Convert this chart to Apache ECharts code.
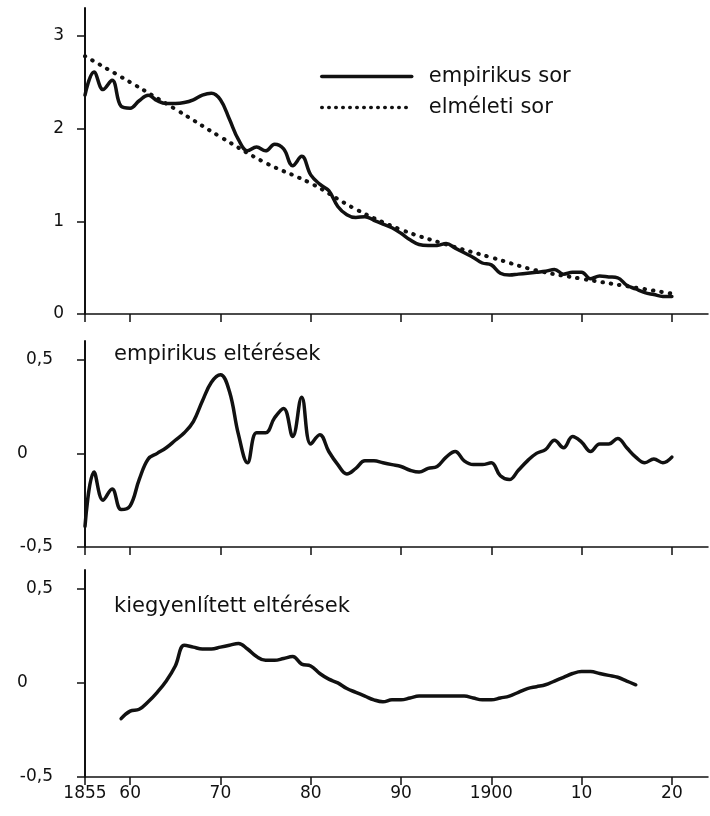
<!DOCTYPE html>
<html>
<head>
<meta charset="utf-8">
<title>empirikus és elméleti sor</title>
<script src="https://cdn.jsdelivr.net/npm/echarts@6/dist/echarts.min.js"></script>
<style>
html,body{margin:0;padding:0;background:#fff;}
#main{width:710px;height:816px;}
</style>
</head>
<body>
<div id="main"></div>
<script>
// évek (egységes x tengely mindhárom ábrán)
var years = [1855,1856,1857,1858,1859,1860,1861,1862,1863,1864,
             1865,1866,1867,1868,1869,1870,1871,1872,1873,1874,
             1875,1876,1877,1878,1879,1880,1881,1882,1883,1884,
             1885,1886,1887,1888,1889,1890,1891,1892,1893,1894,
             1895,1896,1897,1898,1899,1900,1901,1902,1903,1904,
             1905,1906,1907,1908,1909,1910,1911,1912,1913,1914,
             1915,1916,1917,1918,1919,1920];
// empirikus sor
var empirikus = [2.36,2.61,2.42,2.52,2.24,2.22,2.30,2.36,2.30,2.27,
                 2.27,2.28,2.31,2.36,2.38,2.31,2.10,1.88,1.76,1.80,
                 1.76,1.83,1.78,1.60,1.70,1.50,1.40,1.33,1.16,1.07,
                 1.04,1.05,1.01,0.97,0.93,0.87,0.80,0.75,0.74,0.74,
                 0.76,0.71,0.66,0.61,0.55,0.53,0.44,0.42,0.43,0.44,
                 0.45,0.46,0.48,0.43,0.45,0.45,0.38,0.41,0.40,0.39,
                 0.31,0.27,0.23,0.21,0.19,0.19];
// elméleti sor (ötévenként)
var elmeleti_years = [1855,1860,1865,1870,1875,1880,1885,1890,1895,1900,1905,1910,1915,1920];
var elmeleti = [2.78,2.50,2.21,1.91,1.63,1.41,1.13,0.91,0.75,0.61,0.47,0.38,0.30,0.22];
// empirikus eltérések
var elteresek = [-0.39,-0.10,-0.25,-0.19,-0.30,-0.28,-0.14,-0.03,0.00,0.03,
                 0.07,0.11,0.17,0.28,0.38,0.42,0.33,0.10,-0.05,0.11,
                 0.11,0.19,0.24,0.09,0.30,0.05,0.10,0.01,-0.06,-0.11,
                 -0.08,-0.04,-0.04,-0.05,-0.06,-0.07,-0.09,-0.10,-0.08,-0.07,
                 -0.02,0.01,-0.04,-0.06,-0.06,-0.05,-0.12,-0.14,-0.09,-0.04,
                 0.00,0.02,0.07,0.03,0.09,0.06,0.01,0.05,0.05,0.08,
                 0.03,-0.02,-0.05,-0.03,-0.05,-0.02];
// kiegyenlített eltérések (1859-1916)
var kiegy_years = [1859,1860,1861,1862,1863,1864,1865,1866,1867,1868,
                   1869,1870,1871,1872,1873,1874,1875,1876,1877,1878,
                   1879,1880,1881,1882,1883,1884,1885,1886,1887,1888,
                   1889,1890,1891,1892,1893,1894,1895,1896,1897,1898,
                   1899,1900,1901,1902,1903,1904,1905,1906,1907,1908,
                   1909,1910,1911,1912,1913,1914,1915,1916];
var kiegyenlitett = [-0.19,-0.15,-0.14,-0.10,-0.05,0.01,0.09,0.20,0.19,0.18,
                     0.18,0.19,0.20,0.21,0.18,0.14,0.12,0.12,0.13,0.14,
                     0.10,0.09,0.05,0.02,0.00,-0.03,-0.05,-0.07,-0.09,-0.10,
                     -0.09,-0.09,-0.08,-0.07,-0.07,-0.07,-0.07,-0.07,-0.07,-0.08,
                     -0.09,-0.09,-0.08,-0.07,-0.05,-0.03,-0.02,-0.01,0.01,0.03,
                     0.05,0.06,0.06,0.05,0.04,0.03,0.01,-0.01];
var x_ticks = [1855,1860,1870,1880,1890,1900,1910,1920];
var y_ticks_top = [0,1,2,3];
var y_ticks_dev = [-0.5,0,0.5];

var FONT = 'DejaVu Sans';
var INK = '#111';

function pairs(xs, ys){
  var out = [];
  for(var i = 0; i < xs.length; i++){
    out.push([xs[i], ys[i]]);
  }
  return out;
}

function x_axis(idx, labels){
  return {
    type: 'value', gridIndex: idx, min: 1855, max: 1924,
    axisLine: {onZero: false, lineStyle: {color: INK, width: 1.5}},
    axisTick: {show: true, customValues: x_ticks, length: 8, lineStyle: {color: INK, width: 1.5}},
    axisLabel: {
      show: labels, customValues: x_ticks, margin: 8,
      color: INK, fontFamily: FONT, fontSize: 17,
      formatter: function(v){
        return (v == 1855 || v == 1900) ? String(v) : String(v).slice(2);
      }
    },
    splitLine: {show: false}
  };
}

function y_axis(idx, max, ticks, margin){
  return {
    type: 'value', gridIndex: idx, min: ticks[0], max: max,
    axisLine: {show: true, lineStyle: {color: INK, width: 2}},
    axisTick: {show: true, customValues: ticks, length: 8, lineStyle: {color: INK, width: 1.5}},
    axisLabel: {
      customValues: ticks, margin: margin,
      color: INK, fontFamily: FONT, fontSize: 17,
      formatter: function(v){
        if(idx > 0 && v == 0) return '{z|0}';
        return String(v).replace('.', ',');
      },
      rich: {z: {width: 36, align: 'left', fontFamily: FONT, fontSize: 17, color: INK}}
    },
    splitLine: {show: false}
  };
}

var line_style = {color: INK, width: 3.5, join: 'round', cap: 'round'};

var myChart = echarts.init(document.getElementById('main'));
var option = {
  animation: false,
  backgroundColor: '#fff',
  title: [
    {text: 'empirikus eltérések', left: 114, top: 344, padding: 0,
     textStyle: {fontFamily: FONT, fontSize: 21, fontWeight: 'normal', color: INK}},
    {text: 'kiegyenlített eltérések', left: 114, top: 596, padding: 0,
     textStyle: {fontFamily: FONT, fontSize: 21, fontWeight: 'normal', color: INK}}
  ],
  legend: {
    data: [
      {name: 'empirikus sor', lineStyle: {width: 3.5}},
      {name: 'elméleti sor', lineStyle: {width: 3.5, type: [0.5, 6.5], cap: 'round'}}
    ],
    orient: 'vertical', left: 320, top: 66,
    itemWidth: 90, itemHeight: 22, itemGap: 10, padding: 0,
    itemStyle: {opacity: 0},
    textStyle: {fontFamily: FONT, fontSize: 21, color: INK, padding: [0, 0, 0, 12]}
  },
  grid: [
    {left: 85, width: 623, top: 8, height: 306},
    {left: 85, width: 623, top: 341, height: 206},
    {left: 85, width: 623, top: 570, height: 207}
  ],
  xAxis: [x_axis(0, false), x_axis(1, false), x_axis(2, true)],
  yAxis: [
    y_axis(0, 3.3, y_ticks_top, 21),
    y_axis(1, 0.6, y_ticks_dev, 32),
    y_axis(2, 0.6, y_ticks_dev, 32)
  ],
  series: [
    {
      name: 'empirikus sor', type: 'line', xAxisIndex: 0, yAxisIndex: 0,
      data: pairs(years, empirikus), smooth: 0.4, symbol: 'none',
      lineStyle: line_style, itemStyle: {color: INK}
    },
    {
      name: 'elméleti sor', type: 'line', xAxisIndex: 0, yAxisIndex: 0,
      data: pairs(elmeleti_years, elmeleti), smooth: 0.4, symbol: 'none',
      lineStyle: {color: INK, width: 4, type: [0.5, 8], cap: 'round'}, itemStyle: {color: INK}
    },
    {
      name: 'empirikus eltérések', type: 'line', xAxisIndex: 1, yAxisIndex: 1,
      data: pairs(years, elteresek), smooth: 0.4, symbol: 'none',
      lineStyle: line_style
    },
    {
      name: 'kiegyenlített eltérések', type: 'line', xAxisIndex: 2, yAxisIndex: 2,
      data: pairs(kiegy_years, kiegyenlitett), smooth: 0.4, symbol: 'none',
      lineStyle: line_style
    }
  ]
};
myChart.setOption(option);
window.addEventListener('resize', function(){
  myChart.resize();
});
</script>
</body>
</html>
